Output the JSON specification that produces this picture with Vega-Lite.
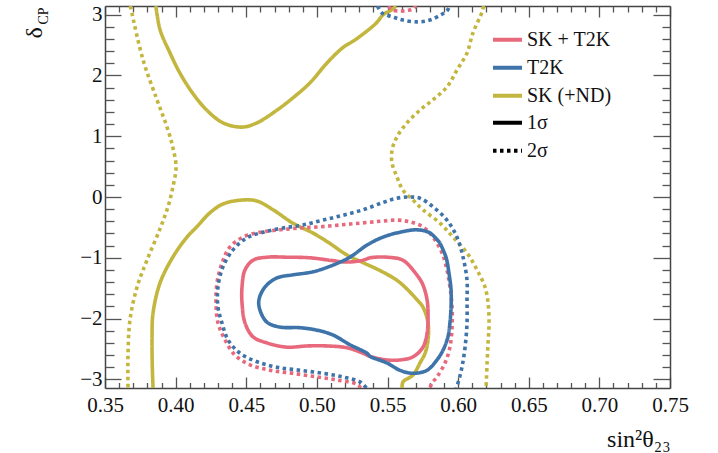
{
  "$schema": "https://vega.github.io/schema/vega-lite/v6.json",
  "width": 565,
  "height": 382,
  "autosize": {"type": "none"},
  "padding": {"left": 105, "top": 6, "right": 48, "bottom": 65},
  "background": "white",
  "config": {
    "font": "Liberation Serif",
    "view": {"stroke": null},
    "axis": {"grid": false, "domainColor": "#444", "domainWidth": 1.5, "tickColor": "#555", "tickWidth": 1.3, "labelFont": "Liberation Serif", "labelFontSize": 21, "labelColor": "#111", "titleFont": "Liberation Serif", "titleFontWeight": "normal", "titleColor": "#111"},
    "legend": {"labelFont": "Liberation Serif", "labelFontSize": 20, "labelColor": "#111"}
  },
  "datasets": {
    "c": [
      {"series":"SK (+ND)","level":"1σ","seg":"o1a","i":0,"x":0.386,"y":3.1416},
      {"series":"SK (+ND)","level":"1σ","seg":"o1a","i":1,"x":0.389,"y":2.75},
      {"series":"SK (+ND)","level":"1σ","seg":"o1a","i":2,"x":0.396,"y":2.37},
      {"series":"SK (+ND)","level":"1σ","seg":"o1a","i":3,"x":0.403,"y":2.04},
      {"series":"SK (+ND)","level":"1σ","seg":"o1a","i":4,"x":0.412,"y":1.71},
      {"series":"SK (+ND)","level":"1σ","seg":"o1a","i":5,"x":0.422,"y":1.43},
      {"series":"SK (+ND)","level":"1σ","seg":"o1a","i":6,"x":0.4335,"y":1.22},
      {"series":"SK (+ND)","level":"1σ","seg":"o1a","i":7,"x":0.447,"y":1.15},
      {"series":"SK (+ND)","level":"1σ","seg":"o1a","i":8,"x":0.4576,"y":1.22},
      {"series":"SK (+ND)","level":"1σ","seg":"o1a","i":9,"x":0.4718,"y":1.43},
      {"series":"SK (+ND)","level":"1σ","seg":"o1a","i":10,"x":0.483,"y":1.63},
      {"series":"SK (+ND)","level":"1σ","seg":"o1a","i":11,"x":0.495,"y":1.875},
      {"series":"SK (+ND)","level":"1σ","seg":"o1a","i":12,"x":0.507,"y":2.2},
      {"series":"SK (+ND)","level":"1σ","seg":"o1a","i":13,"x":0.518,"y":2.45},
      {"series":"SK (+ND)","level":"1σ","seg":"o1a","i":14,"x":0.528,"y":2.6},
      {"series":"SK (+ND)","level":"1σ","seg":"o1a","i":15,"x":0.542,"y":2.86},
      {"series":"SK (+ND)","level":"1σ","seg":"o1a","i":16,"x":0.547,"y":3.0},
      {"series":"SK (+ND)","level":"1σ","seg":"o1a","i":17,"x":0.553,"y":3.08},
      {"series":"SK (+ND)","level":"1σ","seg":"o1a","i":18,"x":0.556,"y":3.1416},

      {"series":"SK (+ND)","level":"1σ","seg":"o1b","i":0,"x":0.384,"y":-3.1416},
      {"series":"SK (+ND)","level":"1σ","seg":"o1b","i":1,"x":0.3835,"y":-2.8},
      {"series":"SK (+ND)","level":"1σ","seg":"o1b","i":2,"x":0.3833,"y":-2.3},
      {"series":"SK (+ND)","level":"1σ","seg":"o1b","i":3,"x":0.384,"y":-1.91},
      {"series":"SK (+ND)","level":"1σ","seg":"o1b","i":4,"x":0.389,"y":-1.41},
      {"series":"SK (+ND)","level":"1σ","seg":"o1b","i":5,"x":0.398,"y":-0.99},
      {"series":"SK (+ND)","level":"1σ","seg":"o1b","i":6,"x":0.408,"y":-0.66},
      {"series":"SK (+ND)","level":"1σ","seg":"o1b","i":7,"x":0.415,"y":-0.49},
      {"series":"SK (+ND)","level":"1σ","seg":"o1b","i":8,"x":0.4243,"y":-0.26},
      {"series":"SK (+ND)","level":"1σ","seg":"o1b","i":9,"x":0.4335,"y":-0.115},
      {"series":"SK (+ND)","level":"1σ","seg":"o1b","i":10,"x":0.447,"y":-0.05},
      {"series":"SK (+ND)","level":"1σ","seg":"o1b","i":11,"x":0.4576,"y":-0.066},
      {"series":"SK (+ND)","level":"1σ","seg":"o1b","i":12,"x":0.469,"y":-0.21},
      {"series":"SK (+ND)","level":"1σ","seg":"o1b","i":13,"x":0.483,"y":-0.43},
      {"series":"SK (+ND)","level":"1σ","seg":"o1b","i":14,"x":0.497,"y":-0.59},
      {"series":"SK (+ND)","level":"1σ","seg":"o1b","i":15,"x":0.509,"y":-0.76},
      {"series":"SK (+ND)","level":"1σ","seg":"o1b","i":16,"x":0.521,"y":-0.95},
      {"series":"SK (+ND)","level":"1σ","seg":"o1b","i":17,"x":0.5327,"y":-1.08},
      {"series":"SK (+ND)","level":"1σ","seg":"o1b","i":18,"x":0.5447,"y":-1.21},
      {"series":"SK (+ND)","level":"1σ","seg":"o1b","i":19,"x":0.5567,"y":-1.37},
      {"series":"SK (+ND)","level":"1σ","seg":"o1b","i":20,"x":0.5645,"y":-1.53},
      {"series":"SK (+ND)","level":"1σ","seg":"o1b","i":21,"x":0.5709,"y":-1.69},
      {"series":"SK (+ND)","level":"1σ","seg":"o1b","i":22,"x":0.5751,"y":-1.81},
      {"series":"SK (+ND)","level":"1σ","seg":"o1b","i":23,"x":0.5787,"y":-2.07},
      {"series":"SK (+ND)","level":"1σ","seg":"o1b","i":24,"x":0.5787,"y":-2.35},
      {"series":"SK (+ND)","level":"1σ","seg":"o1b","i":25,"x":0.5766,"y":-2.57},
      {"series":"SK (+ND)","level":"1σ","seg":"o1b","i":26,"x":0.573,"y":-2.73},
      {"series":"SK (+ND)","level":"1σ","seg":"o1b","i":27,"x":0.568,"y":-2.93},
      {"series":"SK (+ND)","level":"1σ","seg":"o1b","i":28,"x":0.561,"y":-3.04},
      {"series":"SK (+ND)","level":"1σ","seg":"o1b","i":29,"x":0.5603,"y":-3.1416},

      {"series":"SK (+ND)","level":"2σ","seg":"o2a","i":0,"x":0.368,"y":3.1416},
      {"series":"SK (+ND)","level":"2σ","seg":"o2a","i":1,"x":0.369,"y":3.03},
      {"series":"SK (+ND)","level":"2σ","seg":"o2a","i":2,"x":0.377,"y":2.25},
      {"series":"SK (+ND)","level":"2σ","seg":"o2a","i":3,"x":0.3868,"y":1.6},
      {"series":"SK (+ND)","level":"2σ","seg":"o2a","i":4,"x":0.3939,"y":1.15},
      {"series":"SK (+ND)","level":"2σ","seg":"o2a","i":5,"x":0.398,"y":0.82},
      {"series":"SK (+ND)","level":"2σ","seg":"o2a","i":6,"x":0.4003,"y":0.49},
      {"series":"SK (+ND)","level":"2σ","seg":"o2a","i":7,"x":0.398,"y":0.16},
      {"series":"SK (+ND)","level":"2σ","seg":"o2a","i":8,"x":0.3946,"y":-0.16},
      {"series":"SK (+ND)","level":"2σ","seg":"o2a","i":9,"x":0.389,"y":-0.52},
      {"series":"SK (+ND)","level":"2σ","seg":"o2a","i":10,"x":0.3797,"y":-1.04},
      {"series":"SK (+ND)","level":"2σ","seg":"o2a","i":11,"x":0.3727,"y":-1.48},
      {"series":"SK (+ND)","level":"2σ","seg":"o2a","i":12,"x":0.3677,"y":-2.02},
      {"series":"SK (+ND)","level":"2σ","seg":"o2a","i":13,"x":0.3663,"y":-2.57},
      {"series":"SK (+ND)","level":"2σ","seg":"o2a","i":14,"x":0.3663,"y":-3.1416},

      {"series":"SK (+ND)","level":"2σ","seg":"o2b","i":0,"x":0.618,"y":3.1416},
      {"series":"SK (+ND)","level":"2σ","seg":"o2b","i":1,"x":0.6169,"y":3.04},
      {"series":"SK (+ND)","level":"2σ","seg":"o2b","i":2,"x":0.6105,"y":2.7},
      {"series":"SK (+ND)","level":"2σ","seg":"o2b","i":3,"x":0.6063,"y":2.37},
      {"series":"SK (+ND)","level":"2σ","seg":"o2b","i":4,"x":0.5992,"y":2.09},
      {"series":"SK (+ND)","level":"2σ","seg":"o2b","i":5,"x":0.5921,"y":1.81},
      {"series":"SK (+ND)","level":"2σ","seg":"o2b","i":6,"x":0.5822,"y":1.6},
      {"series":"SK (+ND)","level":"2σ","seg":"o2b","i":7,"x":0.573,"y":1.43},
      {"series":"SK (+ND)","level":"2σ","seg":"o2b","i":8,"x":0.5638,"y":1.22},
      {"series":"SK (+ND)","level":"2σ","seg":"o2b","i":9,"x":0.5567,"y":0.99},
      {"series":"SK (+ND)","level":"2σ","seg":"o2b","i":10,"x":0.5532,"y":0.77},
      {"series":"SK (+ND)","level":"2σ","seg":"o2b","i":11,"x":0.5532,"y":0.56},
      {"series":"SK (+ND)","level":"2σ","seg":"o2b","i":12,"x":0.5567,"y":0.33},
      {"series":"SK (+ND)","level":"2σ","seg":"o2b","i":13,"x":0.561,"y":0.11},
      {"series":"SK (+ND)","level":"2σ","seg":"o2b","i":14,"x":0.568,"y":-0.05},
      {"series":"SK (+ND)","level":"2σ","seg":"o2b","i":15,"x":0.5751,"y":-0.21},
      {"series":"SK (+ND)","level":"2σ","seg":"o2b","i":16,"x":0.5872,"y":-0.43},
      {"series":"SK (+ND)","level":"2σ","seg":"o2b","i":17,"x":0.5964,"y":-0.66},
      {"series":"SK (+ND)","level":"2σ","seg":"o2b","i":18,"x":0.6063,"y":-0.92},
      {"series":"SK (+ND)","level":"2σ","seg":"o2b","i":19,"x":0.6134,"y":-1.2},
      {"series":"SK (+ND)","level":"2σ","seg":"o2b","i":20,"x":0.619,"y":-1.48},
      {"series":"SK (+ND)","level":"2σ","seg":"o2b","i":21,"x":0.6212,"y":-1.74},
      {"series":"SK (+ND)","level":"2σ","seg":"o2b","i":22,"x":0.6219,"y":-2.07},
      {"series":"SK (+ND)","level":"2σ","seg":"o2b","i":23,"x":0.6212,"y":-2.4},
      {"series":"SK (+ND)","level":"2σ","seg":"o2b","i":24,"x":0.6205,"y":-2.73},
      {"series":"SK (+ND)","level":"2σ","seg":"o2b","i":25,"x":0.6198,"y":-3.1416},

      {"series":"SK + T2K","level":"1σ","seg":"r1","i":0,"x":0.568,"y":-1.2},
      {"series":"SK + T2K","level":"1σ","seg":"r1","i":1,"x":0.561,"y":-1.04},
      {"series":"SK + T2K","level":"1σ","seg":"r1","i":2,"x":0.5496,"y":-0.99},
      {"series":"SK + T2K","level":"1σ","seg":"r1","i":3,"x":0.5376,"y":-1.0},
      {"series":"SK + T2K","level":"1σ","seg":"r1","i":4,"x":0.5327,"y":-1.04},
      {"series":"SK + T2K","level":"1σ","seg":"r1","i":5,"x":0.5213,"y":-1.07},
      {"series":"SK + T2K","level":"1σ","seg":"r1","i":6,"x":0.5093,"y":-1.04},
      {"series":"SK + T2K","level":"1σ","seg":"r1","i":7,"x":0.4951,"y":-1.0},
      {"series":"SK + T2K","level":"1σ","seg":"r1","i":8,"x":0.4788,"y":-0.99},
      {"series":"SK + T2K","level":"1σ","seg":"r1","i":9,"x":0.4647,"y":-0.99},
      {"series":"SK + T2K","level":"1σ","seg":"r1","i":10,"x":0.4548,"y":-1.04},
      {"series":"SK + T2K","level":"1σ","seg":"r1","i":11,"x":0.4491,"y":-1.2},
      {"series":"SK + T2K","level":"1σ","seg":"r1","i":12,"x":0.447,"y":-1.48},
      {"series":"SK + T2K","level":"1σ","seg":"r1","i":13,"x":0.447,"y":-1.74},
      {"series":"SK + T2K","level":"1σ","seg":"r1","i":14,"x":0.4491,"y":-2.07},
      {"series":"SK + T2K","level":"1σ","seg":"r1","i":15,"x":0.4548,"y":-2.3},
      {"series":"SK + T2K","level":"1σ","seg":"r1","i":16,"x":0.4647,"y":-2.4},
      {"series":"SK + T2K","level":"1σ","seg":"r1","i":17,"x":0.4788,"y":-2.47},
      {"series":"SK + T2K","level":"1σ","seg":"r1","i":18,"x":0.493,"y":-2.45},
      {"series":"SK + T2K","level":"1σ","seg":"r1","i":19,"x":0.5072,"y":-2.45},
      {"series":"SK + T2K","level":"1σ","seg":"r1","i":20,"x":0.5213,"y":-2.48},
      {"series":"SK + T2K","level":"1σ","seg":"r1","i":21,"x":0.5327,"y":-2.57},
      {"series":"SK + T2K","level":"1σ","seg":"r1","i":22,"x":0.5376,"y":-2.62},
      {"series":"SK + T2K","level":"1σ","seg":"r1","i":23,"x":0.5496,"y":-2.68},
      {"series":"SK + T2K","level":"1σ","seg":"r1","i":24,"x":0.5588,"y":-2.68},
      {"series":"SK + T2K","level":"1σ","seg":"r1","i":25,"x":0.568,"y":-2.63},
      {"series":"SK + T2K","level":"1σ","seg":"r1","i":26,"x":0.5751,"y":-2.47},
      {"series":"SK + T2K","level":"1σ","seg":"r1","i":27,"x":0.578,"y":-2.24},
      {"series":"SK + T2K","level":"1σ","seg":"r1","i":28,"x":0.5787,"y":-1.97},
      {"series":"SK + T2K","level":"1σ","seg":"r1","i":29,"x":0.578,"y":-1.69},
      {"series":"SK + T2K","level":"1σ","seg":"r1","i":30,"x":0.5744,"y":-1.41},
      {"series":"SK + T2K","level":"1σ","seg":"r1","i":31,"x":0.568,"y":-1.2},

      {"series":"SK + T2K","level":"2σ","seg":"r2a","i":0,"x":0.531,"y":-3.1416},
      {"series":"SK + T2K","level":"2σ","seg":"r2a","i":1,"x":0.5284,"y":-3.08},
      {"series":"SK + T2K","level":"2σ","seg":"r2a","i":2,"x":0.5142,"y":-3.01},
      {"series":"SK + T2K","level":"2σ","seg":"r2a","i":3,"x":0.5,"y":-2.96},
      {"series":"SK + T2K","level":"2σ","seg":"r2a","i":4,"x":0.4831,"y":-2.9},
      {"series":"SK + T2K","level":"2σ","seg":"r2a","i":5,"x":0.4668,"y":-2.85},
      {"series":"SK + T2K","level":"2σ","seg":"r2a","i":6,"x":0.4527,"y":-2.76},
      {"series":"SK + T2K","level":"2σ","seg":"r2a","i":7,"x":0.442,"y":-2.6},
      {"series":"SK + T2K","level":"2σ","seg":"r2a","i":8,"x":0.435,"y":-2.35},
      {"series":"SK + T2K","level":"2σ","seg":"r2a","i":9,"x":0.43,"y":-2.07},
      {"series":"SK + T2K","level":"2σ","seg":"r2a","i":10,"x":0.4286,"y":-1.74},
      {"series":"SK + T2K","level":"2σ","seg":"r2a","i":11,"x":0.4293,"y":-1.41},
      {"series":"SK + T2K","level":"2σ","seg":"r2a","i":12,"x":0.4328,"y":-1.09},
      {"series":"SK + T2K","level":"2σ","seg":"r2a","i":13,"x":0.4385,"y":-0.82},
      {"series":"SK + T2K","level":"2σ","seg":"r2a","i":14,"x":0.4477,"y":-0.66},
      {"series":"SK + T2K","level":"2σ","seg":"r2a","i":15,"x":0.4597,"y":-0.58},
      {"series":"SK + T2K","level":"2σ","seg":"r2a","i":16,"x":0.4739,"y":-0.54},
      {"series":"SK + T2K","level":"2σ","seg":"r2a","i":17,"x":0.488,"y":-0.51},
      {"series":"SK + T2K","level":"2σ","seg":"r2a","i":18,"x":0.5022,"y":-0.49},
      {"series":"SK + T2K","level":"2σ","seg":"r2a","i":19,"x":0.5164,"y":-0.46},
      {"series":"SK + T2K","level":"2σ","seg":"r2a","i":20,"x":0.5305,"y":-0.43},
      {"series":"SK + T2K","level":"2σ","seg":"r2a","i":21,"x":0.5447,"y":-0.4},
      {"series":"SK + T2K","level":"2σ","seg":"r2a","i":22,"x":0.5567,"y":-0.38},
      {"series":"SK + T2K","level":"2σ","seg":"r2a","i":23,"x":0.5659,"y":-0.41},
      {"series":"SK + T2K","level":"2σ","seg":"r2a","i":24,"x":0.5751,"y":-0.49},
      {"series":"SK + T2K","level":"2σ","seg":"r2a","i":25,"x":0.5822,"y":-0.66},
      {"series":"SK + T2K","level":"2σ","seg":"r2a","i":26,"x":0.5886,"y":-0.92},
      {"series":"SK + T2K","level":"2σ","seg":"r2a","i":27,"x":0.5921,"y":-1.2},
      {"series":"SK + T2K","level":"2σ","seg":"r2a","i":28,"x":0.5942,"y":-1.48},
      {"series":"SK + T2K","level":"2σ","seg":"r2a","i":29,"x":0.5957,"y":-1.81},
      {"series":"SK + T2K","level":"2σ","seg":"r2a","i":30,"x":0.5957,"y":-2.14},
      {"series":"SK + T2K","level":"2σ","seg":"r2a","i":31,"x":0.5942,"y":-2.47},
      {"series":"SK + T2K","level":"2σ","seg":"r2a","i":32,"x":0.5907,"y":-2.73},
      {"series":"SK + T2K","level":"2σ","seg":"r2a","i":33,"x":0.585,"y":-2.96},
      {"series":"SK + T2K","level":"2σ","seg":"r2a","i":34,"x":0.5815,"y":-3.06},
      {"series":"SK + T2K","level":"2σ","seg":"r2a","i":35,"x":0.58,"y":-3.1416},

      {"series":"SK + T2K","level":"2σ","seg":"r2b","i":0,"x":0.551,"y":3.1416},
      {"series":"SK + T2K","level":"2σ","seg":"r2b","i":1,"x":0.553,"y":3.08},
      {"series":"SK + T2K","level":"2σ","seg":"r2b","i":2,"x":0.559,"y":3.06},
      {"series":"SK + T2K","level":"2σ","seg":"r2b","i":3,"x":0.565,"y":3.07},
      {"series":"SK + T2K","level":"2σ","seg":"r2b","i":4,"x":0.569,"y":3.11},
      {"series":"SK + T2K","level":"2σ","seg":"r2b","i":5,"x":0.57,"y":3.1416},

      {"series":"T2K","level":"1σ","seg":"b1","i":0,"x":0.5872,"y":-0.76},
      {"series":"T2K","level":"1σ","seg":"b1","i":1,"x":0.58,"y":-0.59},
      {"series":"T2K","level":"1σ","seg":"b1","i":2,"x":0.5709,"y":-0.54},
      {"series":"T2K","level":"1σ","seg":"b1","i":3,"x":0.5588,"y":-0.58},
      {"series":"T2K","level":"1σ","seg":"b1","i":4,"x":0.5468,"y":-0.66},
      {"series":"T2K","level":"1σ","seg":"b1","i":5,"x":0.5355,"y":-0.79},
      {"series":"T2K","level":"1σ","seg":"b1","i":6,"x":0.5234,"y":-0.99},
      {"series":"T2K","level":"1σ","seg":"b1","i":7,"x":0.5114,"y":-1.12},
      {"series":"T2K","level":"1σ","seg":"b1","i":8,"x":0.4973,"y":-1.23},
      {"series":"T2K","level":"1σ","seg":"b1","i":9,"x":0.4831,"y":-1.28},
      {"series":"T2K","level":"1σ","seg":"b1","i":10,"x":0.4718,"y":-1.33},
      {"series":"T2K","level":"1σ","seg":"b1","i":11,"x":0.4633,"y":-1.48},
      {"series":"T2K","level":"1σ","seg":"b1","i":12,"x":0.459,"y":-1.69},
      {"series":"T2K","level":"1σ","seg":"b1","i":13,"x":0.4597,"y":-1.86},
      {"series":"T2K","level":"1σ","seg":"b1","i":14,"x":0.4647,"y":-2.06},
      {"series":"T2K","level":"1σ","seg":"b1","i":15,"x":0.4739,"y":-2.14},
      {"series":"T2K","level":"1σ","seg":"b1","i":16,"x":0.488,"y":-2.15},
      {"series":"T2K","level":"1σ","seg":"b1","i":17,"x":0.5,"y":-2.19},
      {"series":"T2K","level":"1σ","seg":"b1","i":18,"x":0.5114,"y":-2.27},
      {"series":"T2K","level":"1σ","seg":"b1","i":19,"x":0.5234,"y":-2.43},
      {"series":"T2K","level":"1σ","seg":"b1","i":20,"x":0.5355,"y":-2.57},
      {"series":"T2K","level":"1σ","seg":"b1","i":21,"x":0.5376,"y":-2.62},
      {"series":"T2K","level":"1σ","seg":"b1","i":22,"x":0.5496,"y":-2.73},
      {"series":"T2K","level":"1σ","seg":"b1","i":23,"x":0.5588,"y":-2.85},
      {"series":"T2K","level":"1σ","seg":"b1","i":24,"x":0.568,"y":-2.9},
      {"series":"T2K","level":"1σ","seg":"b1","i":25,"x":0.578,"y":-2.85},
      {"series":"T2K","level":"1σ","seg":"b1","i":26,"x":0.585,"y":-2.68},
      {"series":"T2K","level":"1σ","seg":"b1","i":27,"x":0.5893,"y":-2.52},
      {"series":"T2K","level":"1σ","seg":"b1","i":28,"x":0.5928,"y":-2.3},
      {"series":"T2K","level":"1σ","seg":"b1","i":29,"x":0.5942,"y":-2.07},
      {"series":"T2K","level":"1σ","seg":"b1","i":30,"x":0.595,"y":-1.81},
      {"series":"T2K","level":"1σ","seg":"b1","i":31,"x":0.595,"y":-1.53},
      {"series":"T2K","level":"1σ","seg":"b1","i":32,"x":0.5935,"y":-1.25},
      {"series":"T2K","level":"1σ","seg":"b1","i":33,"x":0.5914,"y":-0.99},
      {"series":"T2K","level":"1σ","seg":"b1","i":34,"x":0.5872,"y":-0.76},

      {"series":"T2K","level":"2σ","seg":"b2a","i":0,"x":0.535,"y":-3.1416},
      {"series":"T2K","level":"2σ","seg":"b2a","i":1,"x":0.5305,"y":-3.04},
      {"series":"T2K","level":"2σ","seg":"b2a","i":2,"x":0.5185,"y":-2.96},
      {"series":"T2K","level":"2σ","seg":"b2a","i":3,"x":0.5043,"y":-2.9},
      {"series":"T2K","level":"2σ","seg":"b2a","i":4,"x":0.488,"y":-2.85},
      {"series":"T2K","level":"2σ","seg":"b2a","i":5,"x":0.4718,"y":-2.8},
      {"series":"T2K","level":"2σ","seg":"b2a","i":6,"x":0.4576,"y":-2.71},
      {"series":"T2K","level":"2σ","seg":"b2a","i":7,"x":0.4456,"y":-2.57},
      {"series":"T2K","level":"2σ","seg":"b2a","i":8,"x":0.4371,"y":-2.35},
      {"series":"T2K","level":"2σ","seg":"b2a","i":9,"x":0.4328,"y":-2.07},
      {"series":"T2K","level":"2σ","seg":"b2a","i":10,"x":0.43,"y":-1.81},
      {"series":"T2K","level":"2σ","seg":"b2a","i":11,"x":0.43,"y":-1.48},
      {"series":"T2K","level":"2σ","seg":"b2a","i":12,"x":0.4335,"y":-1.15},
      {"series":"T2K","level":"2σ","seg":"b2a","i":13,"x":0.4406,"y":-0.87},
      {"series":"T2K","level":"2σ","seg":"b2a","i":14,"x":0.4505,"y":-0.67},
      {"series":"T2K","level":"2σ","seg":"b2a","i":15,"x":0.4619,"y":-0.58},
      {"series":"T2K","level":"2σ","seg":"b2a","i":16,"x":0.476,"y":-0.51},
      {"series":"T2K","level":"2σ","seg":"b2a","i":17,"x":0.4902,"y":-0.46},
      {"series":"T2K","level":"2σ","seg":"b2a","i":18,"x":0.5043,"y":-0.38},
      {"series":"T2K","level":"2σ","seg":"b2a","i":19,"x":0.5185,"y":-0.3},
      {"series":"T2K","level":"2σ","seg":"b2a","i":20,"x":0.5327,"y":-0.21},
      {"series":"T2K","level":"2σ","seg":"b2a","i":21,"x":0.5468,"y":-0.09},
      {"series":"T2K","level":"2σ","seg":"b2a","i":22,"x":0.5567,"y":-0.02},
      {"series":"T2K","level":"2σ","seg":"b2a","i":23,"x":0.5659,"y":0.0},
      {"series":"T2K","level":"2σ","seg":"b2a","i":24,"x":0.573,"y":-0.02},
      {"series":"T2K","level":"2σ","seg":"b2a","i":25,"x":0.5822,"y":-0.16},
      {"series":"T2K","level":"2σ","seg":"b2a","i":26,"x":0.5921,"y":-0.38},
      {"series":"T2K","level":"2σ","seg":"b2a","i":27,"x":0.5992,"y":-0.66},
      {"series":"T2K","level":"2σ","seg":"b2a","i":28,"x":0.6035,"y":-0.99},
      {"series":"T2K","level":"2σ","seg":"b2a","i":29,"x":0.6063,"y":-1.37},
      {"series":"T2K","level":"2σ","seg":"b2a","i":30,"x":0.6063,"y":-1.69},
      {"series":"T2K","level":"2σ","seg":"b2a","i":31,"x":0.6063,"y":-2.07},
      {"series":"T2K","level":"2σ","seg":"b2a","i":32,"x":0.6049,"y":-2.47},
      {"series":"T2K","level":"2σ","seg":"b2a","i":33,"x":0.6027,"y":-2.8},
      {"series":"T2K","level":"2σ","seg":"b2a","i":34,"x":0.5999,"y":-3.06},
      {"series":"T2K","level":"2σ","seg":"b2a","i":35,"x":0.5985,"y":-3.1416},

      {"series":"T2K","level":"2σ","seg":"b2b","i":0,"x":0.543,"y":3.1416},
      {"series":"T2K","level":"2σ","seg":"b2b","i":1,"x":0.546,"y":3.03},
      {"series":"T2K","level":"2σ","seg":"b2b","i":2,"x":0.5539,"y":2.96},
      {"series":"T2K","level":"2σ","seg":"b2b","i":3,"x":0.561,"y":2.91},
      {"series":"T2K","level":"2σ","seg":"b2b","i":4,"x":0.5716,"y":2.88},
      {"series":"T2K","level":"2σ","seg":"b2b","i":5,"x":0.58,"y":2.91},
      {"series":"T2K","level":"2σ","seg":"b2b","i":6,"x":0.5872,"y":2.99},
      {"series":"T2K","level":"2σ","seg":"b2b","i":7,"x":0.5921,"y":3.06},
      {"series":"T2K","level":"2σ","seg":"b2b","i":8,"x":0.594,"y":3.1416}
    ]
  },
  "data": {"name": "c"},
  "resolve": {"axis": {"x": "independent", "y": "independent"}},
  "layer": [
    {
      "mark": {"type": "line", "strokeWidth": 3.6, "strokeCap": "butt", "interpolate": "catmull-rom", "clip": true},
      "encoding": {
        "x": {"field": "x", "type": "quantitative", "scale": {"domain": [0.35, 0.75], "nice": false, "zero": false},
          "axis": {"orient": "bottom", "values": [0.35, 0.4, 0.45, 0.5, 0.55, 0.6, 0.65, 0.7, 0.75], "format": ".2f", "ticks": false, "labelPadding": 6, "labelFlush": false, "labelOverlap": false, "labelFont": "Liberation Serif",
            "title": "sin²θ₂₃", "titleFont": "Liberation Serif", "titleFontSize": 24, "titleAlign": "right", "titleAnchor": null, "titleX": 565, "titleY": 58, "titleBaseline": "alphabetic"}},
        "y": {"field": "y", "type": "quantitative", "scale": {"domain": [-3.1416, 3.1416], "nice": false, "zero": false},
          "axis": {"orient": "left", "values": [-3, -2, -1, 0, 1, 2, 3], "ticks": false, "labelPadding": 3, "labelFlush": false, "labelOverlap": false, "labelFont": "Liberation Serif",
            "title": "δ", "titleFont": "Liberation Serif", "titleFontSize": 24, "titleAngle": -90, "titleAlign": "left", "titleBaseline": "alphabetic", "titleX": -64, "titleY": 32}},
        "color": {"field": "series", "type": "nominal",
          "scale": {"domain": ["SK + T2K", "T2K", "SK (+ND)"], "range": ["#e8687c", "#3e74aa", "#c3b63e"]},
          "legend": {"title": null, "orient": "none", "legendX": 386, "legendY": 21, "symbolType": "stroke", "symbolSize": 841, "symbolStrokeWidth": 4, "labelOffset": 3, "labelFont": "Liberation Serif", "labelFontSize": 20, "clipHeight": 25.5, "rowPadding": 2, "padding": 0}},
        "strokeDash": {"field": "level", "type": "nominal",
          "scale": {"domain": ["1σ", "2σ"], "range": [[1, 0], [3.5, 3.5]]},
          "legend": {"title": null, "orient": "none", "legendX": 386, "legendY": 104, "symbolType": "stroke", "symbolSize": 841, "symbolStrokeWidth": 4, "symbolStrokeColor": "black", "labelOffset": 3, "labelFont": "Liberation Serif", "labelFontSize": 20, "clipHeight": 25.5, "rowPadding": 2, "padding": 0}},
        "detail": {"field": "seg", "type": "nominal"},
        "order": {"field": "i", "type": "quantitative"}
      }
    },
    {
      "mark": {"type": "point", "opacity": 0},
      "encoding": {
        "x": {"field": "x", "type": "quantitative", "scale": {"domain": [0.35, 0.75], "nice": false, "zero": false},
          "axis": {"orient": "bottom", "values": [0.35, 0.4, 0.45, 0.5, 0.55, 0.6, 0.65, 0.7, 0.75], "labels": false, "domain": false, "tickSize": -11, "title": null}},
        "y": {"field": "y", "type": "quantitative", "scale": {"domain": [-3.1416, 3.1416], "nice": false, "zero": false},
          "axis": {"orient": "left", "values": [-3, -2, -1, 0, 1, 2, 3], "labels": false, "domain": false, "tickSize": -16,
            "title": "CP", "titleFont": "Liberation Serif", "titleFontSize": 14, "titleAngle": -90, "titleAlign": "left", "titleBaseline": "alphabetic", "titleX": -58, "titleY": 18}}
      }
    },
    {
      "mark": {"type": "point", "opacity": 0},
      "encoding": {
        "x": {"field": "x", "type": "quantitative", "scale": {"domain": [0.35, 0.75], "nice": false, "zero": false},
          "axis": {"orient": "bottom", "values": [0.36,0.37,0.38,0.39,0.41,0.42,0.43,0.44,0.46,0.47,0.48,0.49,0.51,0.52,0.53,0.54,0.56,0.57,0.58,0.59,0.61,0.62,0.63,0.64,0.66,0.67,0.68,0.69,0.71,0.72,0.73,0.74], "labels": false, "domain": false, "tickSize": -5.5, "title": null}},
        "y": {"field": "y", "type": "quantitative", "scale": {"domain": [-3.1416, 3.1416], "nice": false, "zero": false},
          "axis": {"orient": "left", "values": [-2.8,-2.6,-2.4,-2.2,-1.8,-1.6,-1.4,-1.2,-0.8,-0.6,-0.4,-0.2,0.2,0.4,0.6,0.8,1.2,1.4,1.6,1.8,2.2,2.4,2.6,2.8], "labels": false, "domain": false, "tickSize": -9, "title": null}}
      }
    },
    {
      "mark": {"type": "point", "opacity": 0},
      "encoding": {
        "x": {"field": "x", "type": "quantitative", "scale": {"domain": [0.35, 0.75], "nice": false, "zero": false},
          "axis": {"orient": "top", "values": [0.35, 0.4, 0.45, 0.5, 0.55, 0.6, 0.65, 0.7, 0.75], "labels": false, "domain": true, "tickSize": -11, "title": null}},
        "y": {"field": "y", "type": "quantitative", "scale": {"domain": [-3.1416, 3.1416], "nice": false, "zero": false},
          "axis": {"orient": "right", "values": [-3, -2, -1, 0, 1, 2, 3], "labels": false, "domain": true, "tickSize": -17, "title": null}}
      }
    },
    {
      "mark": {"type": "point", "opacity": 0},
      "encoding": {
        "x": {"field": "x", "type": "quantitative", "scale": {"domain": [0.35, 0.75], "nice": false, "zero": false},
          "axis": {"orient": "top", "values": [0.36,0.37,0.38,0.39,0.41,0.42,0.43,0.44,0.46,0.47,0.48,0.49,0.51,0.52,0.53,0.54,0.56,0.57,0.58,0.59,0.61,0.62,0.63,0.64,0.66,0.67,0.68,0.69,0.71,0.72,0.73,0.74], "labels": false, "domain": false, "tickSize": -6, "title": null}},
        "y": {"field": "y", "type": "quantitative", "scale": {"domain": [-3.1416, 3.1416], "nice": false, "zero": false},
          "axis": {"orient": "right", "values": [-2.8,-2.6,-2.4,-2.2,-1.8,-1.6,-1.4,-1.2,-0.8,-0.6,-0.4,-0.2,0.2,0.4,0.6,0.8,1.2,1.4,1.6,1.8,2.2,2.4,2.6,2.8], "labels": false, "domain": false, "tickSize": -8, "title": null}}
      }
    }
  ]
}
